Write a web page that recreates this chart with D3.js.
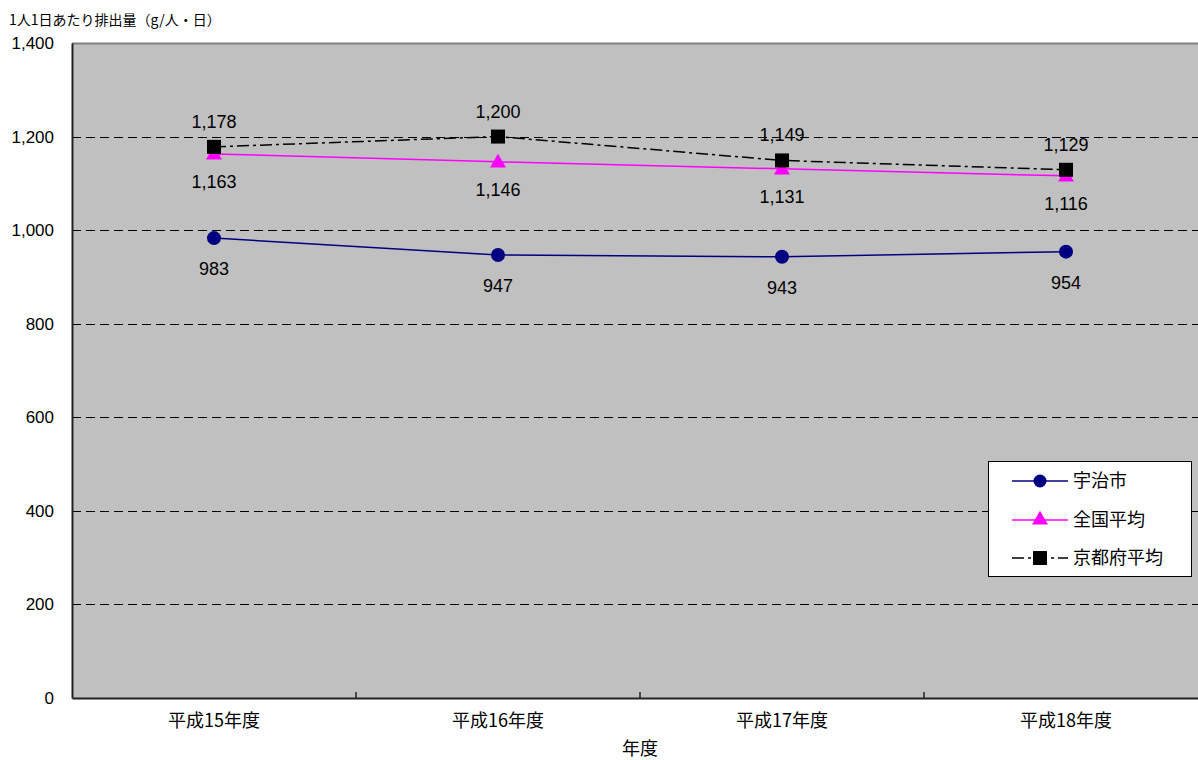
<!DOCTYPE html>
<html><head><meta charset="utf-8">
<script src="https://cdn.jsdelivr.net/npm/d3@7"></script>
<style>
body{margin:0;background:#fff;}
svg{display:block;font-family:"Liberation Sans","Noto Sans CJK JP",sans-serif;}
</style></head>
<body>
<svg id="c" width="1198" height="760"></svg>
<script>
const categories = ["平成15年度","平成16年度","平成17年度","平成18年度"];
const uji = [983, 947, 943, 954];
const national = [1163, 1146, 1131, 1116];
const kyoto = [1178, 1200, 1149, 1129];
const yTicks = [0,200,400,600,800,1000,1200,1400];
const yTitle = "1人1日あたり排出量（g/人・日）";
const xTitle = "年度";
const seriesNames = ["宇治市","全国平均","京都府平均"];

const svg = d3.select("#c");
const L = 72, T = 43, B = 698, band = 284;
const R = L + band * categories.length;
const x = d3.scaleBand().domain(categories).range([L, R]);
const y = d3.scaleLinear().domain([0,1400]).range([B, T]);
const cx = c => x(c) + x.bandwidth()/2;
const fmt = d3.format(",");

svg.append("rect").attr("x",L).attr("y",T).attr("width",R-L).attr("height",B-T).attr("fill","#c0c0c0");
svg.append("line").attr("x1",L).attr("x2",R).attr("y1",T+0.5).attr("y2",T+0.5).attr("stroke","#808080").attr("stroke-width",2);

// gridlines
svg.append("g").selectAll("line").data(yTicks.filter(v=>v>0 && v<1400)).join("line")
  .attr("x1",L).attr("x2",R).attr("y1",d=>Math.round(y(d))+0.5).attr("y2",d=>Math.round(y(d))+0.5)
  .attr("stroke","#000").attr("stroke-width",1).attr("stroke-dasharray","9,5");

// y axis
const ya = d3.axisLeft(y).tickValues(yTicks).tickFormat(fmt).tickSize(0).tickPadding(18);
const yg = svg.append("g").attr("transform",`translate(${L},0)`).call(ya);
yg.select(".domain").attr("stroke","#222").attr("stroke-width",2);
yg.selectAll("text").attr("font-size",17).attr("fill","#000");

// x axis
const xa = d3.axisBottom(x).tickSize(0).tickPadding(16);
const xg = svg.append("g").attr("transform",`translate(0,${B})`).call(xa);
xg.select(".domain").attr("stroke","#222").attr("stroke-width",2);
xg.selectAll("text").attr("font-size",18).attr("fill","#000").attr("font-family","Noto Sans CJK JP");
// category boundary ticks (inside)
svg.append("g").selectAll("line").data(categories.slice(1)).join("line")
  .attr("x1",d=>x(d)).attr("x2",d=>x(d)).attr("y1",B-6).attr("y2",B).attr("stroke","#222").attr("stroke-width",1.5);

svg.append("text").attr("x",9).attr("y",25).attr("font-size",14).attr("font-family","Noto Sans CJK JP").text(yTitle);
svg.append("text").attr("x",640).attr("y",755).attr("text-anchor","middle").attr("font-size",18).attr("font-family","Noto Sans CJK JP").text(xTitle);

const line = d3.line().x((d,i)=>cx(categories[i])).y(d=>y(d));
svg.append("path").datum(national).attr("d",line).attr("fill","none").attr("stroke","#ff00ff").attr("stroke-width",1.5);
svg.append("path").datum(kyoto).attr("d",line).attr("fill","none").attr("stroke","#000").attr("stroke-width",1.5).attr("stroke-dasharray","12,4,3,4");
svg.append("path").datum(uji).attr("d",line).attr("fill","none").attr("stroke","#000080").attr("stroke-width",1.5);

const tri = d3.symbol().type(d3.symbolTriangle).size(110);
svg.append("g").selectAll("path").data(national).join("path")
  .attr("d",tri).attr("transform",(d,i)=>`translate(${cx(categories[i])},${y(d)+1})`).attr("fill","#ff00ff");
svg.append("g").selectAll("rect").data(kyoto).join("rect")
  .attr("x",(d,i)=>cx(categories[i])-7).attr("y",d=>y(d)-7).attr("width",14).attr("height",14).attr("fill","#000");
svg.append("g").selectAll("circle").data(uji).join("circle")
  .attr("cx",(d,i)=>cx(categories[i])).attr("cy",d=>y(d)).attr("r",7).attr("fill","#000080");

function labels(data, dy){
  svg.append("g").selectAll("text").data(data).join("text")
    .attr("x",(d,i)=>cx(categories[i])).attr("y",d=>y(d)+dy)
    .attr("text-anchor","middle").attr("font-size",18).attr("fill","#000").text(fmt);
}
labels(kyoto, -19);
labels(national, 34);
labels(uji, 37);

// legend
const lg = svg.append("g");
lg.append("rect").attr("x",988.5).attr("y",461.5).attr("width",203).attr("height",115).attr("fill","#fff").attr("stroke","#000").attr("stroke-width",1);
const ly = [481, 520, 558];
const lx1 = 1012, lx2 = 1068, lmx = 1040;
lg.append("line").attr("x1",lx1).attr("x2",lx2).attr("y1",ly[0]).attr("y2",ly[0]).attr("stroke","#000080").attr("stroke-width",1.5);
lg.append("circle").attr("cx",lmx).attr("cy",ly[0]).attr("r",6.5).attr("fill","#000080");
lg.append("line").attr("x1",lx1).attr("x2",lx2).attr("y1",ly[1]).attr("y2",ly[1]).attr("stroke","#ff00ff").attr("stroke-width",1.5);
lg.append("path").attr("d",tri).attr("transform",`translate(${lmx},${ly[1]})`).attr("fill","#ff00ff");
lg.append("line").attr("x1",lx1).attr("x2",lx2).attr("y1",ly[2]).attr("y2",ly[2]).attr("stroke","#000").attr("stroke-width",1.5).attr("stroke-dasharray","12,4,3,4");
lg.append("rect").attr("x",lmx-7).attr("y",ly[2]-7).attr("width",14).attr("height",14).attr("fill","#000");
lg.selectAll("text.lt").data(seriesNames).join("text").attr("class","lt")
  .attr("x",1073).attr("y",(d,i)=>ly[i]+6).attr("font-size",18).attr("font-family","Noto Sans CJK JP").text(d=>d);
</script>
</body></html>
